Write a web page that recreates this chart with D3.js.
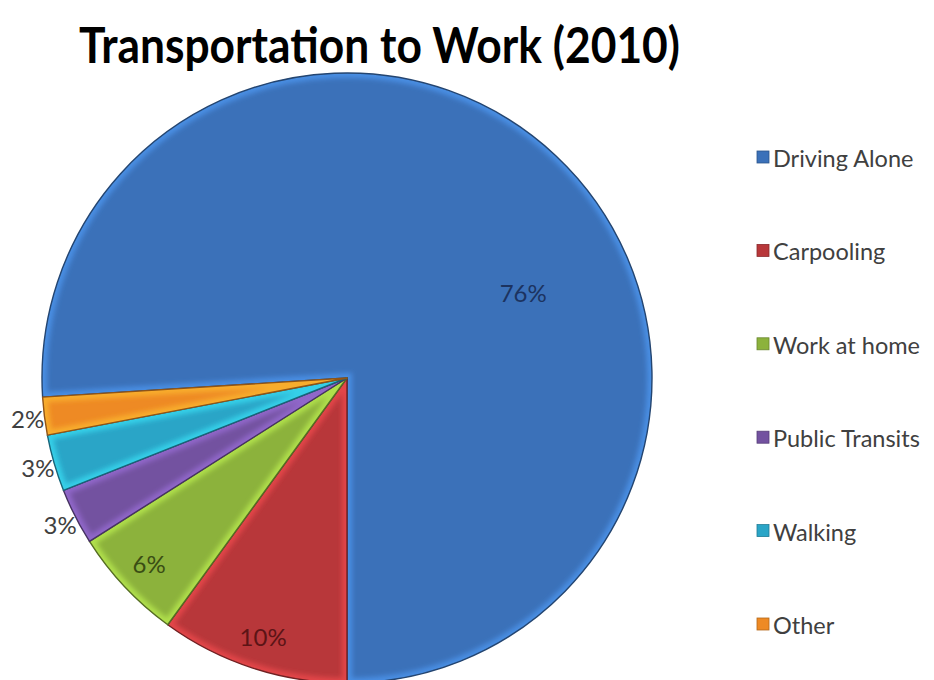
<!DOCTYPE html>
<html>
<head>
<meta charset="utf-8">
<script src="https://cdn.jsdelivr.net/npm/d3@7"></script>
<style>
  html, body { margin: 0; padding: 0; background: #ffffff; }
  svg { display: block; }
</style>
</head>
<body>
<svg id="chart" width="934" height="680"></svg>
<script>
// Share of commuters by mode of transportation, 2010 (percent)
const categories = ["Driving Alone", "Carpooling", "Work at home", "Public Transits", "Walking", "Other"];
const shares = [76, 10, 6, 3, 3, 2];
const shareLabels = ["76%", "10%", "6%", "3%", "3%", "2%"];
const colors = ["#3b71b9", "#b8373a", "#8cb23c", "#7352a0", "#2aa5c7", "#ee8a24"];
const labelColors = ["#1c3360", "#5c1416", "#3a4d14", "#404040", "#404040", "#404040"];
const title = "Transportation to Work (2010)";

const W = 934, H = 680;
const cx = 347, cy = 378, R = 305;

const svg = d3.select("#chart");
const defs = svg.append("defs");

// soft blur used for the bevel highlight along slice edges
defs.append("filter").attr("id", "soft")
  .attr("x", "-10%").attr("y", "-10%").attr("width", "120%").attr("height", "120%")
  .append("feGaussianBlur").attr("stdDeviation", 2.4);

// title
svg.append("text")
  .attr("x", 79).attr("y", 63)
  .attr("font-family", "Lato, 'Open Sans', sans-serif")
  .attr("font-weight", 700)
  .attr("font-size", 50)
  .attr("fill", "#000")
  .attr("textLength", 601)
  .attr("lengthAdjust", "spacingAndGlyphs")
  .text(title);

// the first slice ends at the bottom of the circle
const total = d3.sum(shares);
const start = Math.PI - 2 * Math.PI * shares[0] / total;
const pie = d3.pie().sort(null).value(d => d.v)
  .startAngle(start).endAngle(start + 2 * Math.PI);
const data = pie(categories.map((c, i) => ({ c, v: shares[i], i })));

const arc = d3.arc().innerRadius(0).outerRadius(R);
const g = svg.append("g").attr("transform", `translate(${cx},${cy})`);

const slices = g.selectAll("g.slice").data(data).join("g").attr("class", "slice");

slices.each(function (d, i) {
  const sel = d3.select(this);
  const id = "clip" + i;
  defs.append("clipPath").attr("id", id)
    .append("path").attr("d", arc(d)).attr("transform", `translate(${cx},${cy})`);
  sel.append("path").attr("d", arc(d)).attr("fill", colors[i]);
  const bevel = sel.append("g").attr("clip-path", `url(#${id})`)
    .attr("transform", `translate(${-cx},${-cy})`)
    .append("g").attr("transform", `translate(${cx},${cy})`);
  bevel.append("path").attr("d", arc(d))
    .attr("fill", "none")
    .attr("stroke", d3.color(colors[i]).brighter(1))
    .attr("stroke-width", 10)
    .attr("stroke-opacity", 0.6)
    .attr("filter", "url(#soft)");
  sel.append("path").attr("d", arc(d))
    .attr("fill", "none")
    .attr("stroke", d3.color(colors[i]).darker(1.4))
    .attr("stroke-width", 1.4)
    .attr("stroke-linejoin", "round");
});

// percentage labels
const insideArc = d3.arc().innerRadius(R * 0.89).outerRadius(R * 0.89);
const outsideArc = d3.arc().innerRadius(R + 17).outerRadius(R + 17);
const bigLabel = { angle: 64 * Math.PI / 180, r: 196 };

g.selectAll("text.pct").data(data).join("text")
  .attr("class", "pct")
  .attr("font-family", "Lato, 'Open Sans', sans-serif")
  .attr("font-size", 24)
  .attr("text-anchor", "middle")
  .attr("dominant-baseline", "central")
  .attr("fill", (d, i) => labelColors[i])
  .attr("transform", (d, i) => {
    let p;
    if (i === 0) p = [bigLabel.r * Math.sin(bigLabel.angle), -bigLabel.r * Math.cos(bigLabel.angle)];
    else if (d.data.v >= 5) p = insideArc.centroid(d);
    else p = outsideArc.centroid(d);
    return `translate(${p[0]},${p[1]})`;
  })
  .text((d, i) => shareLabels[i]);

// legend
const legendY = d3.scalePoint().domain(categories).range([157, 624]);
const legend = svg.append("g").selectAll("g").data(categories).join("g")
  .attr("transform", d => `translate(757,${legendY(d)})`);
legend.append("rect")
  .attr("x", 0).attr("y", -6).attr("width", 12).attr("height", 12)
  .attr("fill", (d, i) => colors[i])
  .attr("stroke", (d, i) => d3.color(colors[i]).darker(0.8))
  .attr("stroke-width", 0.8);
legend.append("text")
  .attr("x", 16).attr("y", 1)
  .attr("dominant-baseline", "central")
  .attr("font-family", "Lato, 'Open Sans', sans-serif")
  .attr("font-size", 23.5)
  .attr("fill", "#404040")
  .text(d => d);
</script>
</body>
</html>
